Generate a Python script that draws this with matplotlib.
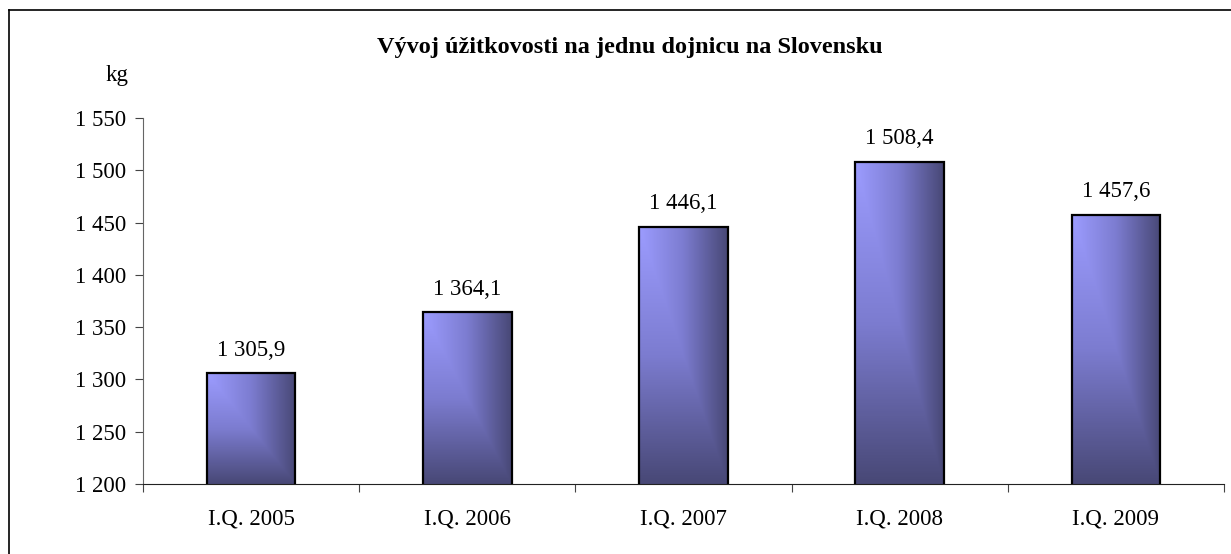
import numpy as np
import matplotlib
matplotlib.use("Agg")
import matplotlib.pyplot as plt
from matplotlib.colors import LinearSegmentedColormap
from matplotlib.lines import Line2D

categories = ["I.Q. 2005", "I.Q. 2006", "I.Q. 2007", "I.Q. 2008", "I.Q. 2009"]
values = [1305.9, 1364.1, 1446.1, 1508.4, 1457.6]
yticks = [1200, 1250, 1300, 1350, 1400, 1450, 1500, 1550]


def fmt(v, decimals=0):
    s = f"{v:,.{decimals}f}"
    return s.replace(",", " ").replace(".", ",")


plt.rcParams["font.family"] = ["Liberation Serif", "DejaVu Serif"]
FS = 16.5

fig = plt.figure(figsize=(12.31, 5.54), dpi=100)
ax = fig.add_axes([143 / 1231, 1 - 484 / 554, (1224 - 143) / 1231, (484 - 118) / 554])

x = np.arange(len(categories))
bars = ax.bar(x, values, width=0.41, bottom=0, color="none",
              edgecolor="black", linewidth=1.6, zorder=3)

# gradient fill: light top-left, darker towards right and bottom
cmap = LinearSegmentedColormap.from_list("bar", ["#9c9cff", "#7c7cd0", "#484876"])
ymin, ymax = 1200, 1550
for b in bars:
    x0, w = b.get_x(), b.get_width()
    top = b.get_height()
    u = np.linspace(0, 1, 120)[None, :]
    v = np.linspace(0, 1, 200)[:, None]
    t = np.maximum(u, v)
    img = ax.imshow(t, cmap=cmap, vmin=0, vmax=1, aspect="auto",
                    extent=(x0, x0 + w, ymin, top), origin="upper", zorder=2)
    img.set_clip_path(b)
    ax.text(b.get_x() + w / 2, top + 12, fmt(top, 1), ha="center", va="bottom",
            fontsize=FS)

ax.set_xlim(-0.5, len(categories) - 0.5)
ax.set_ylim(ymin, ymax)
ax.set_yticks(yticks)
ax.set_yticklabels([fmt(t) for t in yticks], fontsize=FS)
ax.set_xticks(np.arange(len(categories) + 1) - 0.5)
ax.set_xticklabels([])
ax.set_xticks(x, minor=True)
ax.set_xticklabels(categories, minor=True, fontsize=FS)
ax.tick_params(axis="x", which="minor", length=0, pad=18)
ax.tick_params(axis="x", which="major", length=6, direction="out", color="#444")
ax.tick_params(axis="y", length=6, direction="out", color="#444", pad=6)
for s in ("top", "right"):
    ax.spines[s].set_visible(False)
ax.spines["left"].set_color("#666")
ax.spines["bottom"].set_color("#222")

fig.text(630 / 1231, 1 - 47 / 554, "Vývoj úžitkovosti na jednu dojnicu na Slovensku",
         ha="center", va="center", fontsize=17.5, fontweight="bold")
fig.text(117 / 1231, 1 - 75 / 554, "kg", ha="center", va="center", fontsize=FS)

# outer chart border (top and left visible)
fig.add_artist(Line2D([9 / 1231, 9 / 1231], [0, 1 - 10 / 554], color="black", lw=1.2,
                      transform=fig.transFigure))
fig.add_artist(Line2D([9 / 1231, 1], [1 - 10 / 554, 1 - 10 / 554], color="black", lw=1.2,
                      transform=fig.transFigure))

fig.savefig("out.png", dpi=100)
